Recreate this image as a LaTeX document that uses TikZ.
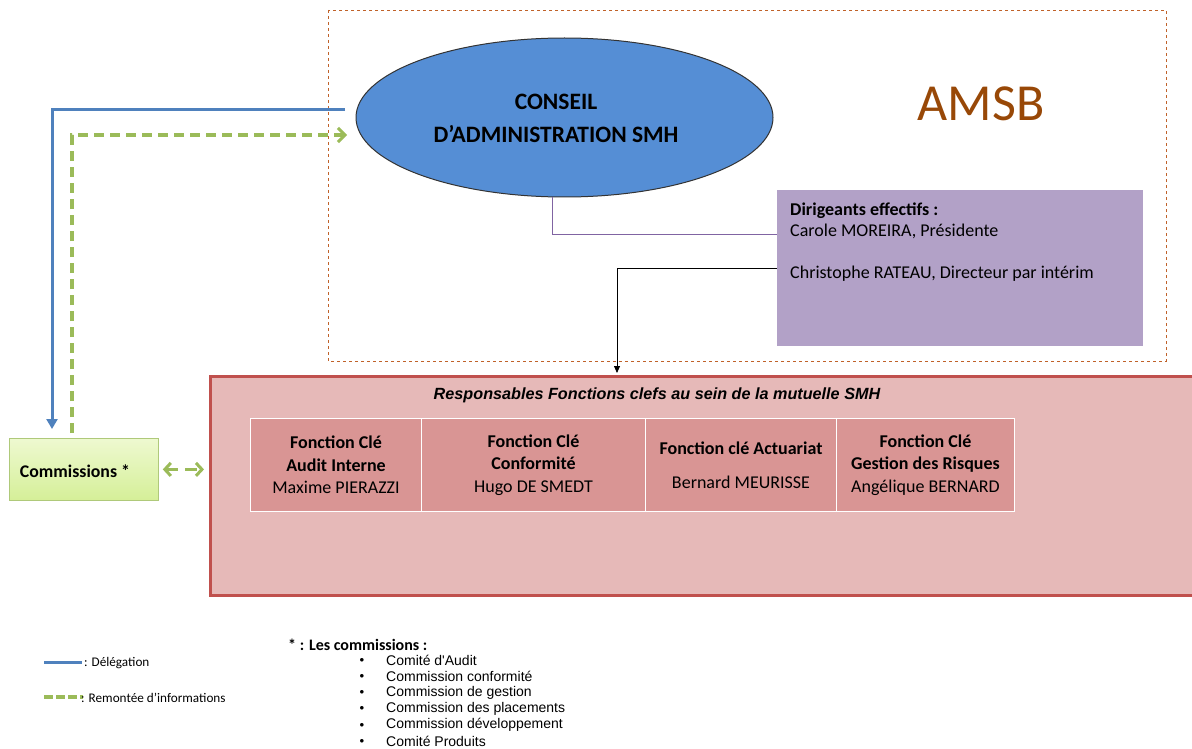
\documentclass[tikz,border=0pt]{standalone}
\usepackage{fontspec}
\setmainfont{Carlito}
\newfontfamily\arialf{Liberation Sans}
\usetikzlibrary{shapes.geometric,arrows.meta,calc}
\definecolor{amsbbrown}{HTML}{C0622A}
\definecolor{amsbtext}{HTML}{984807}
\definecolor{cablue}{HTML}{558ED5}
\definecolor{dirpurple}{HTML}{B2A1C7}
\definecolor{lnpurple}{HTML}{8064A2}
\definecolor{redfill}{HTML}{E6B9B8}
\definecolor{redborder}{HTML}{C0504D}
\definecolor{cellfill}{HTML}{D99594}
\definecolor{delblue}{HTML}{4F81BD}
\definecolor{infogreen}{HTML}{9BBB59}
\definecolor{comtop}{HTML}{EEF9D0}
\definecolor{combot}{HTML}{D5EF98}
\tikzset{
  cell/.style={draw=white, line width=1pt, fill=cellfill, minimum height=93pt, inner sep=0pt, align=center, font=\fontsize{18}{22.5}\selectfont},
  delegline/.style={draw=delblue, line width=3pt},
  infoline/.style={draw=infogreen, line width=3.5pt, dash pattern=on 10pt off 6pt},
  legtext/.style={anchor=west, inner sep=0pt, font=\fontsize{13.2}{15}\selectfont},
  listtext/.style={anchor=west, inner sep=0pt, font=\arialf\fontsize{14}{16}\selectfont},
}
\begin{document}
\begin{tikzpicture}[x=1pt,y=-1pt]
\useasboundingbox (0,0) rectangle (1192,749);
% AMSB dashed frame
\draw[amsbbrown, dashed, line width=0.8pt] (328,10) rectangle (1166,361);
\node[text=amsbtext, font=\fontsize{52}{56}\selectfont] (amsb) at (981,104) {AMSB};
% Conseil ellipse
\node[ellipse, draw=black!80, line width=1pt, fill=cablue, minimum width=417pt, minimum height=159pt, inner sep=0pt] (ca) at (564.5,117.5) {};
\node[align=center, font=\bfseries\fontsize{23.5}{33}\selectfont, inner sep=0pt] (catxt) at (556,118) {CONSEIL\\D'ADMINISTRATION SMH};
% Dirigeants box
\node[fill=dirpurple, minimum width=366pt, minimum height=156pt, inner sep=0pt, anchor=north west] (dir) at (777,190) {};
\node[anchor=north west, inner sep=0pt, align=left, font=\fontsize{18}{21}\selectfont] (dirtxt) at (790,203) {\textbf{Dirigeants effectifs :}\\Carole MOREIRA, Présidente\\[21pt]Christophe RATEAU, Directeur par intérim};
\coordinate (dirA) at (777,234);
\coordinate (dirB) at (777,268);
\draw[lnpurple, line width=0.8pt] (ca.south -| 552,0) -- (552,234) -- (dirA);
% Red box
\node[fill=redfill, draw=redborder, line width=2.5pt, minimum width=990pt, minimum height=219pt, inner sep=0pt, anchor=north west] (fc) at (209,375) {};
\draw[black, line width=0.8pt, -{Triangle[length=7pt,width=6pt]}] (dirB) -- (617,268) -- (617,373);
\node[font=\arialf\bfseries\itshape\fontsize{16.2}{18}\selectfont] (fctitle) at (657,395) {Responsables Fonctions clefs au sein de la mutuelle SMH};
\node[cell, minimum width=171pt, anchor=north west] (c1) at (250,418) {\textbf{Fonction Clé}\\\textbf{Audit Interne}\\Maxime PIERAZZI};
\node[cell, minimum width=224pt, anchor=north west] (c2) at (421,418) {\textbf{Fonction Clé}\\\textbf{Conformité}\\Hugo DE SMEDT};
\node[cell, minimum width=191pt, anchor=north west] (c3) at (645,418) {\textbf{Fonction clé Actuariat}\\[11.5pt]Bernard MEURISSE};
\node[cell, minimum width=178pt, anchor=north west] (c4) at (836,418) {\textbf{Fonction Clé}\\\textbf{Gestion des Risques}\\Angélique BERNARD};
% Commissions
\node[draw=infogreen!80, line width=0.8pt, top color=comtop, bottom color=combot, minimum width=149pt, minimum height=62pt, inner sep=0pt, anchor=north west] (com) at (9,438) {};
\node[font=\bfseries\fontsize{17.8}{20}\selectfont, inner sep=0pt] (comtxt) at (75,471) {Commissions *};
% Delegation and info lines
\coordinate (delstart) at (345,110);
\coordinate (infoend) at (347,135);
\draw[delegline, -{Triangle[length=10pt,width=11pt]}] (delstart) -- (52,110) -- (52,429);
\draw[infoline, -{Straight Barb[length=7pt,width=14pt,line width=3pt]}] (72,433) -- (72,135) -- (infoend);
\draw[infogreen, line width=3.5pt, dash pattern=on 12pt off 7pt, {Straight Barb[length=6pt,width=13pt,line width=3pt]}-{Straight Barb[length=6pt,width=13pt,line width=3pt]}] (com.east) ++(4,0) -- ([xshift=-5pt]fc.west |- com.east);
% Legend
\coordinate (l1a) at (44,662); \coordinate (l1b) at (82,662);
\draw[delegline] (l1a) -- (l1b);
\node[legtext] (l1t) at (84,663) {: Délégation};
\coordinate (l2a) at (44,697); \coordinate (l2b) at (83,697);
\draw[infoline, dash pattern=on 9pt off 3pt] (l2a) -- (l2b);
\node[legtext] (l2t) at (81,698) {: Remontée d'informations};
% Commission list
\node[anchor=west, inner sep=0pt, font=\bfseries\fontsize{16}{18}\selectfont] (lst) at (288,645) {* : Les commissions :};
\foreach \t [count=\i] in {Comité d'Audit, Commission conformité, Commission de gestion, Commission des placements, Commission développement, Comité Produits}{
  \node[inner sep=0pt, font=\fontsize{9}{9}\selectfont] (b\i) at (362,{660+16.3*(\i-1)}) {$\bullet$};
  \node[listtext] (li\i) at (386,{660+16.3*(\i-1)}) {\t};
}
\end{tikzpicture}
\end{document}
